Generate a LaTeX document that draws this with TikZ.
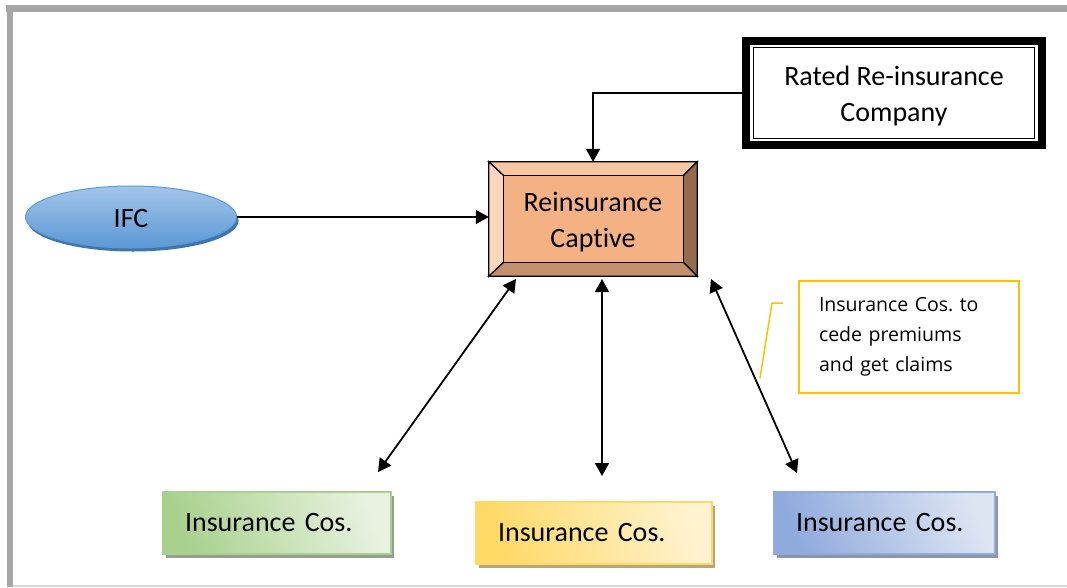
\documentclass[tikz,border=0pt]{standalone}
\usepackage{fontspec}
\setmainfont{Carlito}[Ligatures={NoCommon}]
\newfontfamily\notefont{Open Sans}
\usetikzlibrary{arrows.meta,calc,shapes.geometric,shadows,backgrounds}
\definecolor{framegray}{HTML}{A6A6A6}
\definecolor{framelight}{HTML}{D9D9D9}
\definecolor{capinner}{HTML}{F4B183}
\definecolor{captop}{HTML}{F9C6A2}
\definecolor{capleft}{HTML}{FBD5BC}
\definecolor{capright}{HTML}{956B50}
\definecolor{capbottom}{HTML}{C4906B}
\definecolor{ifclight}{HTML}{A3C6EA}
\definecolor{ifcdark}{HTML}{5A98D4}
\definecolor{ifcedge}{HTML}{5B9BD5}
\definecolor{ifcshadow}{HTML}{3F74AE}
\definecolor{gdark}{HTML}{A9D18E}
\definecolor{glight}{HTML}{E8F2E0}
\definecolor{gshadow}{HTML}{979D91}
\definecolor{ydark}{HTML}{FFD966}
\definecolor{ylight}{HTML}{FFF3D0}
\definecolor{yshadow}{HTML}{B9A678}
\definecolor{bdark}{HTML}{8FAADC}
\definecolor{blight}{HTML}{DDE5F3}
\definecolor{bshadow}{HTML}{8D95A6}
\definecolor{notec}{HTML}{FFC000}
\begin{document}
\frenchspacing
\begin{tikzpicture}[x=1pt,y=-1pt,
  arr/.style={line width=1.8pt,-{Triangle[length=13pt,width=14pt]}},
  darr/.style={line width=1.8pt,{Triangle[length=13pt,width=14pt]}-{Triangle[length=13pt,width=14pt]}},
  bigtext/.style={font=\fontsize{28}{36}\selectfont},
  insbox/.style={rectangle, bigtext, minimum height=62pt, inner xsep=22pt,
    align=left, line width=1.2pt},
  bevel/.style={draw=black, line width=1.2pt, line join=miter}]
\useasboundingbox (0,0) rectangle (1067,587);

% frame
\fill[framegray] (6,5) rectangle (1067,12);
\fill[framegray] (7,5) rectangle (13,587);
\draw[framelight, line width=2pt] (13,585.5) -- (1067,585.5);

% Reinsurance Captive
\node[minimum width=208pt, minimum height=114pt, inner sep=0pt] (cap) at (593,219) {};
\node[bigtext, align=center, inner sep=0pt] (captext) at ($(cap.center)+(0,3)$) {Reinsurance\\Captive};
\begin{scope}[on background layer]
  \coordinate (inw) at ($(cap.north west)+(15,14)$);
  \coordinate (ine) at ($(cap.north east)+(-14,14)$);
  \coordinate (isw) at ($(cap.south west)+(15,-14)$);
  \coordinate (ise) at ($(cap.south east)+(-14,-14)$);
  \filldraw[bevel, fill=captop] (cap.north west) -- (cap.north east) -- (ine) -- (inw) -- cycle;
  \filldraw[bevel, fill=capleft] (cap.north west) -- (inw) -- (isw) -- (cap.south west) -- cycle;
  \filldraw[bevel, fill=capright] (cap.north east) -- (cap.south east) -- (ise) -- (ine) -- cycle;
  \filldraw[bevel, fill=capbottom] (cap.south west) -- (isw) -- (ise) -- (cap.south east) -- cycle;
  \filldraw[bevel, fill=capinner] (inw) rectangle (ise);
\end{scope}

% Rated Re-insurance Company
\node[minimum width=304pt, minimum height=112pt, inner sep=0pt, fill=black] (rated) at (894,93) {};
\fill[white] ($(rated.north west)+(8,8)$) rectangle ($(rated.south east)+(-8,-8)$);
\draw[line width=1.3pt] ($(rated.north west)+(11.5,11)$) rectangle ($(rated.south east)+(-11.5,-11)$);
\node[bigtext, align=center, inner sep=0pt] (ratedtext) at ($(rated.center)+(0,3)$) {Rated Re-insurance\\Company};

% IFC
\node[ellipse, minimum width=211pt, minimum height=62pt, draw=ifcedge, line width=1pt,
  top color=ifclight, bottom color=ifcdark,
  general shadow={fill=ifcshadow, shadow xshift=2pt, shadow yshift=-3.5pt}] (ifc) at (131,217) {};
\node[bigtext, inner sep=0pt] (ifctext) at ($(ifc.center)+(0,2)$) {IFC};

% Insurance companies
\node[insbox, minimum width=228pt, text width=184pt, draw=gdark,
  top color=gdark, bottom color=glight, shading angle=110,
  general shadow={fill=gshadow, shadow xshift=3pt, shadow yshift=-4pt}]
  (ins1) at (277,523) {Insurance Cos.};
\node[insbox, minimum width=236pt, text width=192pt, draw=ydark,
  top color=ydark, bottom color=ylight, shading angle=110,
  general shadow={fill=yshadow, shadow xshift=3pt, shadow yshift=-4pt}]
  (ins2) at (594,533) {Insurance Cos.};
\node[insbox, minimum width=221pt, text width=177pt, draw=bdark,
  top color=bdark, bottom color=blight, shading angle=110,
  general shadow={fill=bshadow, shadow xshift=3pt, shadow yshift=-4pt}]
  (ins3) at (884.5,523) {Insurance Cos.};

% note
\node[draw=notec, line width=1.6pt, minimum width=220pt, minimum height=112pt,
  text width=180pt, inner xsep=20pt, align=left,
  font=\notefont\fontsize{19.5}{30}\selectfont] (note) at (909,337)
  {Insurance Cos. to\\cede premiums\\and get claims};
\coordinate (c1) at (783,303);
\coordinate (c2) at (772,303);
\coordinate (c3) at (760,378);
\draw[notec, line width=1.5pt] (c1) -- (c2) -- (c3);

% connectors
\draw[arr] (rated.west) -| (cap.north);
\draw[arr] (ifc.east) -- (ifc.east -| cap.west);
\coordinate (l1) at (516,279);
\coordinate (l2) at (378,472);
\coordinate (m1) at (602,279);
\coordinate (m2) at (602,476);
\coordinate (r1) at (711,279);
\coordinate (r2) at (797,473);
\draw[darr] (l1) -- (l2);
\draw[darr] (m1) -- (m2);
\draw[darr] (r1) -- (r2);
\end{tikzpicture}
\end{document}
